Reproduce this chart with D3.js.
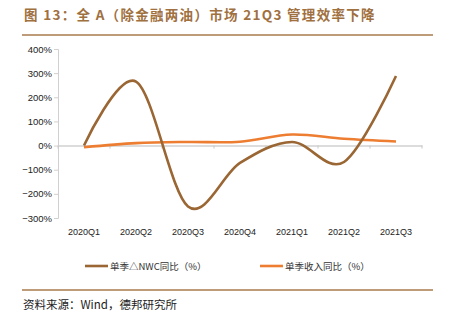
<!DOCTYPE html>
<html><head><meta charset="utf-8">
<script src="https://cdn.jsdelivr.net/npm/d3@7"></script>
<style>body{margin:0;background:#fff}svg{display:block}</style>
</head><body>
<svg id="c" width="450" height="321"></svg>
<script>
const categories = ["2020Q1","2020Q2","2020Q3","2020Q4","2021Q1","2021Q2","2021Q3"];
const nwcYoY = [0, 265, -252, -72, 15, -68, 288];
const revYoY = [-7, 10, 15, 16, 46, 28, 17];
const yTicks = [400, 300, 200, 100, 0, -100, -200, -300];
const seriesNames = ["单季△NWC同比（%）", "单季收入同比（%）"];
const colors = ["#9a6633", "#ed7d31"];

const svg = d3.select("#c");
const font = "'Noto Sans CJK SC', sans-serif";
const brown = "#a0703f";

svg.append("text").attr("x", 24).attr("y", 20)
  .attr("font-family", font).attr("font-size", 13.5).attr("font-weight", "bold")
  .attr("fill", brown).attr("letter-spacing", 1.3)
  .text("图 13：全 A（除金融两油）市场 21Q3 管理效率下降");
svg.append("line").attr("x1", 22).attr("x2", 433).attr("y1", 35).attr("y2", 35)
  .attr("stroke", "#a87a4c").attr("stroke-width", 1.5);

const x = d3.scaleBand().domain(categories).range([58, 422]);
const y = d3.scaleLinear().domain([-300, 400]).range([218, 49]);

// y axis
const ya = svg.append("g").attr("transform", "translate(58,0)")
  .call(d3.axisLeft(y).tickValues(yTicks).tickSize(4).tickFormat(d => (d < 0 ? "\u2212" + (-d) : d) + "%"));
ya.select(".domain").attr("stroke", "#d0d0d0").attr("d", "M-4,49.5H0.5V218.5H-4");
ya.selectAll(".tick line").attr("stroke", "#d0d0d0");
ya.selectAll(".tick text").attr("font-family", "Liberation Sans, Arial, sans-serif").attr("font-size", 9.5).attr("fill", "#222").attr("x", -6);

// x axis at zero
const xa = svg.append("g").attr("transform", `translate(0,${y(0)})`)
  .call(d3.axisBottom(x).tickSize(0).tickFormat(""));
xa.select(".domain").attr("stroke", "#d0d0d0").attr("stroke-width", 1.5);
const bounds = categories.map(c => x(c)).concat([x.range()[1]]);
svg.append("g").selectAll("line").data(bounds).join("line")
  .attr("x1", d => d).attr("x2", d => d).attr("y1", y(0)).attr("y2", y(0) + 3)
  .attr("stroke", "#c8c8c8");

// x labels at bottom
svg.append("g").selectAll("text").data(categories).join("text")
  .attr("x", d => x(d) + x.bandwidth() / 2).attr("y", 235)
  .attr("text-anchor", "middle").attr("font-family", "Liberation Sans, Arial, sans-serif")
  .attr("font-size", 9).attr("fill", "#222").text(d => d);

const line = d3.line().x((d, i) => x(categories[i]) + x.bandwidth() / 2).y(d => y(d))
  .curve(d3.curveCardinal.tension(0));
svg.append("path").datum(revYoY).attr("d", line).attr("fill", "none")
  .attr("stroke", colors[1]).attr("stroke-width", 2.6);
svg.append("path").datum(nwcYoY).attr("d", line).attr("fill", "none")
  .attr("stroke", colors[0]).attr("stroke-width", 2.6);

// legend
const lg = [{x: 85}, {x: 260}];
lg.forEach((l, i) => {
  svg.append("line").attr("x1", l.x).attr("x2", l.x + 23).attr("y1", 266).attr("y2", 266)
    .attr("stroke", colors[i]).attr("stroke-width", 2.6);
  svg.append("text").attr("x", l.x + 25).attr("y", 269.5)
    .attr("font-family", font).attr("font-size", 9.5).attr("fill", "#333")
    .text(seriesNames[i]);
});

svg.append("line").attr("x1", 22).attr("x2", 433).attr("y1", 290).attr("y2", 290)
  .attr("stroke", "#a87a4c").attr("stroke-width", 1.5);
svg.append("text").attr("x", 23).attr("y", 309)
  .attr("font-family", font).attr("font-size", 11.5).attr("fill", "#222")
  .text("资料来源：Wind，德邦研究所");
</script>
</body></html>
